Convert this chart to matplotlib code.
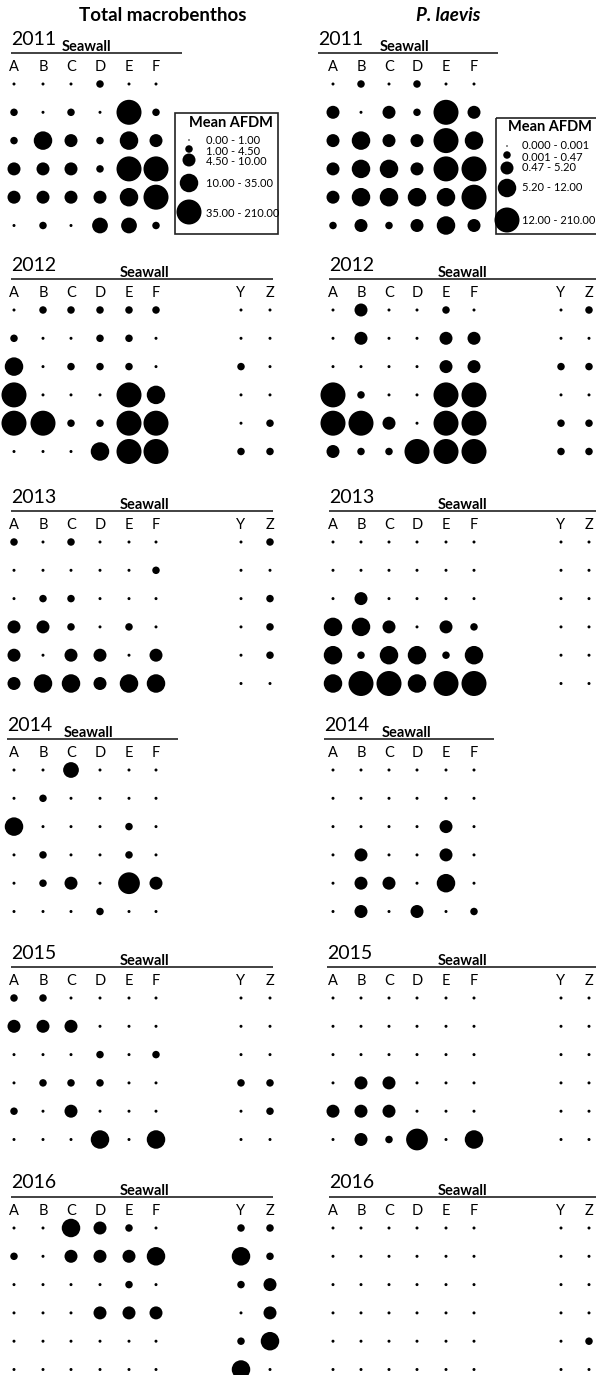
import matplotlib.pyplot as plt
import numpy as np
from matplotlib.patches import Rectangle

plt.rcParams["font.family"] = ["Lato", "DejaVu Sans"]

YEARS = [2011, 2012, 2013, 2014, 2015, 2016]
SITES = ["A", "B", "C", "D", "E", "F", "Y", "Z"]

# AFDM size class per station (0 = lowest ... 4 = highest)
# rows: sampling rows away from the seawall, cols: sites
TOTAL_2011 = [
    [0, 0, 0, 1, 0, 0],
    [1, 0, 1, 0, 4, 1],
    [1, 3, 2, 1, 3, 2],
    [2, 2, 2, 1, 4, 4],
    [2, 2, 2, 2, 3, 4],
    [0, 1, 0, 2.5, 2.5, 1],
]
TOTAL_2012 = [
    [0, 1, 1, 1, 1, 1, 0, 0],
    [1, 0, 0, 1, 1, 0, 0, 0],
    [3, 0, 1, 1, 1, 0, 1, 0],
    [4, 0, 0, 0, 4, 3, 0, 0],
    [4, 4, 1, 1, 4, 4, 0, 1],
    [0, 0, 0, 3, 4, 4, 1, 1],
]
TOTAL_2013 = [
    [1, 0, 1, 0, 0, 0, 0, 1],
    [0, 0, 0, 0, 0, 1, 0, 0],
    [0, 1, 1, 0, 0, 0, 0, 1],
    [2, 2, 1, 0, 1, 0, 0, 1],
    [2, 0, 2, 2, 0, 2, 0, 1],
    [2, 3, 3, 2, 3, 3, 0, 0],
]
TOTAL_2014 = [
    [0, 0, 2.5, 0, 0, 0],
    [0, 1, 0, 0, 0, 0],
    [3, 0, 0, 0, 1, 0],
    [0, 1, 0, 0, 1, 0],
    [0, 1, 2, 0, 3.5, 2],
    [0, 0, 0, 1, 0, 0],
]
TOTAL_2015 = [
    [1, 1, 0, 0, 0, 0, 0, 0],
    [2, 2, 2, 0, 0, 0, 0, 0],
    [0, 0, 0, 1, 0, 1, 0, 0],
    [0, 1, 1, 1, 0, 0, 1, 1],
    [1, 0, 2, 0, 0, 0, 0, 1],
    [0, 0, 0, 3, 0, 3, 0, 0],
]
TOTAL_2016 = [
    [0, 0, 3, 2, 1, 0, 1, 1],
    [1, 0, 2, 2, 2, 3, 3, 1],
    [0, 0, 0, 0, 1, 0, 1, 2],
    [0, 0, 0, 2, 2, 2, 0, 2],
    [0, 0, 0, 0, 0, 0, 1, 3],
    [0, 0, 0, 0, 0, 0, 3, 0],
]

LAEVIS_2011 = [
    [0, 1, 0, 1, 0, 0],
    [2, 0, 2, 1, 4, 2],
    [2, 3, 2, 2, 4, 3],
    [2, 3, 3, 2, 4, 4],
    [2, 3, 3, 3, 3, 4],
    [1, 2, 1, 2, 3, 2],
]
LAEVIS_2012 = [
    [0, 2, 0, 0, 1, 0, 0, 1],
    [0, 2, 0, 0, 2, 2, 0, 0],
    [0, 0, 0, 0, 2, 2, 1, 1],
    [4, 1, 0, 0, 4, 4, 0, 0],
    [4, 4, 2, 0, 4, 4, 1, 1],
    [2, 1, 1, 4, 4, 4, 1, 1],
]
LAEVIS_2013 = [
    [0, 0, 0, 0, 0, 0, 0, 0],
    [0, 0, 0, 0, 0, 0, 0, 0],
    [0, 2, 0, 0, 0, 0, 0, 0],
    [3, 3, 2, 0, 2, 1, 0, 0],
    [3, 1, 3, 3, 1, 3, 0, 0],
    [3, 4, 4, 3, 4, 4, 0, 0],
]
LAEVIS_2014 = [
    [0, 0, 0, 0, 0, 0],
    [0, 0, 0, 0, 0, 0],
    [0, 0, 0, 0, 2, 0],
    [0, 2, 0, 0, 2, 0],
    [0, 2, 2, 0, 3, 0],
    [0, 2, 0, 2, 0, 1],
]
LAEVIS_2015 = [
    [0, 0, 0, 0, 0, 0, 0, 0],
    [0, 0, 0, 0, 0, 0, 0, 0],
    [0, 0, 0, 0, 0, 0, 0, 0],
    [0, 2, 2, 0, 0, 0, 0, 0],
    [2, 2, 2, 0, 0, 0, 0, 0],
    [0, 2, 1, 3.5, 0, 3, 0, 0],
]
LAEVIS_2016 = [
    [0, 0, 0, 0, 0, 0, 0, 0],
    [0, 0, 0, 0, 0, 0, 0, 0],
    [0, 0, 0, 0, 0, 0, 0, 0],
    [0, 0, 0, 0, 0, 0, 0, 0],
    [0, 0, 0, 0, 0, 0, 0, 1],
    [0, 0, 0, 0, 0, 0, 0, 0],
]

TOTAL = [TOTAL_2011, TOTAL_2012, TOTAL_2013, TOTAL_2014, TOTAL_2015, TOTAL_2016]
LAEVIS = [LAEVIS_2011, LAEVIS_2012, LAEVIS_2013, LAEVIS_2014, LAEVIS_2015, LAEVIS_2016]

TOTAL_LEGEND = ["0.00 - 1.00", "1.00 - 4.50", "4.50 - 10.00", "10.00 - 35.00", "35.00 - 210.00"]
LAEVIS_LEGEND = ["0.000 - 0.001", "0.001 - 0.47", "0.47 - 5.20", "5.20 - 12.00", "12.00 - 210.00"]

# =========================
# LAYOUT (pixel coordinates)
# =========================
PX = 0.72  # points per pixel at dpi 100
LINE_Y = [53, 279, 511, 739, 967, 1197]
LEFT_LINE = [(11, 182), (11, 273), (11, 273), (7, 178), (11, 273), (11, 273)]
RIGHT_LINE = [(318, 498), (329, 600), (329, 600), (324, 494), (327, 600), (329, 600)]
LEFT_SEAWALL = [86, 145, 145, 89, 145, 145]
RIGHT_SEAWALL = [405, 462, 463, 406, 463, 463]
LEFT_COLS = [14, 43, 71, 100, 129, 156, 241, 270]
RIGHT_COLS = [333, 361, 389, 417, 446, 474, 561, 589]
ROW_GAP = 28.3


def diameter(cls):
    return np.interp(cls, [0, 1, 2, 3, 4], [3, 7.5, 13, 18.5, 25])


def draw_panel(ax, values, year, line, seawall_x, cols_x, line_y):
    values = np.array(values, dtype=float)
    n_rows, n_cols = values.shape
    x0, x1 = line
    ax.plot([x0, x1], [line_y, line_y], color="#333333", lw=1.3, solid_capstyle="butt")
    ax.text(x0, line_y - 14, str(year), fontsize=14, ha="left", va="center")
    ax.text(seawall_x, line_y - 2, "Seawall", fontsize=10.5, fontweight="bold",
            ha="center", va="baseline")
    for j in range(n_cols):
        ax.text(cols_x[j], line_y + 14, SITES[j], fontsize=10.5, ha="center", va="center")
    xs, ys, ss = [], [], []
    for i in range(n_rows):
        for j in range(n_cols):
            xs.append(cols_x[j])
            ys.append(line_y + 31 + i * ROW_GAP)
            ss.append((diameter(values[i, j]) * PX) ** 2)
    ax.scatter(xs, ys, s=ss, c="black", linewidths=0)


def draw_legend(ax, box, labels, dot_x, dot_y, label_x, label_y, title_x, title_y, title_ha):
    bx0, by0, bx1, by1 = box
    ax.add_patch(Rectangle((bx0, by0), bx1 - bx0, by1 - by0, fill=False,
                           edgecolor="#222222", lw=1.2))
    ax.text(title_x, title_y, "Mean AFDM", fontsize=10.5, fontweight="bold",
            ha=title_ha, va="center")
    sizes = [(diameter(k) * PX) ** 2 for k in range(5)]
    sizes[0] = (1.5 * PX) ** 2
    ax.scatter([dot_x] * 5, dot_y, s=sizes, c="black", linewidths=0)
    for lab, y in zip(labels, label_y):
        ax.text(label_x, y, lab, fontsize=8, ha="left", va="center")


def main():
    fig = plt.figure(figsize=(5.96, 13.75), dpi=100)
    ax = fig.add_axes([0, 0, 1, 1])
    ax.set_xlim(0, 596)
    ax.set_ylim(1375, 0)
    ax.axis("off")

    ax.text(163, 15, "Total macrobenthos", fontsize=13.5, fontweight="bold",
            ha="center", va="center")
    ax.text(448, 15, "P. laevis", fontsize=13.5, fontweight="bold", style="italic",
            ha="center", va="center")

    for k, year in enumerate(YEARS):
        draw_panel(ax, TOTAL[k], year, LEFT_LINE[k], LEFT_SEAWALL[k], LEFT_COLS, LINE_Y[k])
        draw_panel(ax, LAEVIS[k], year, RIGHT_LINE[k], RIGHT_SEAWALL[k], RIGHT_COLS, LINE_Y[k])

    draw_legend(ax, (175, 113, 278, 234), TOTAL_LEGEND, 189,
                [140, 149, 160, 183, 212], 206, [140, 151, 161, 183, 213],
                273, 123, "right")
    draw_legend(ax, (496, 118, 602, 234), LAEVIS_LEGEND, 507,
                [146, 155, 168, 188, 220], 522, [145, 157, 167, 187, 220],
                550, 127, "center")

    fig.savefig("out.png", dpi=100)
    plt.close(fig)


if __name__ == "__main__":
    main()
